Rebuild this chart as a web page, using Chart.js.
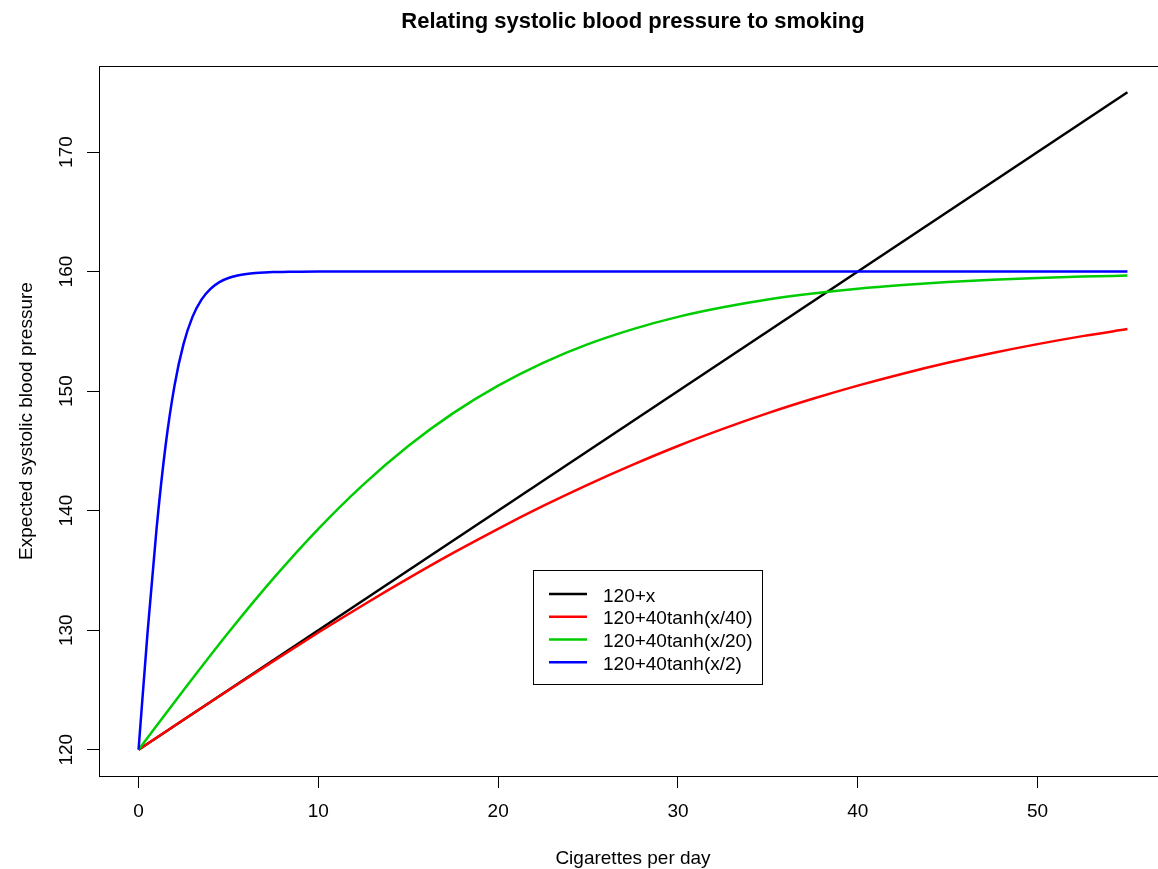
<!DOCTYPE html>
<html>
<head>
<meta charset="utf-8">
<title>Relating systolic blood pressure to smoking</title>
<script src="https://cdn.jsdelivr.net/npm/chart.js@4.4.1/dist/chart.umd.min.js"></script>
<style>
  html, body { margin: 0; padding: 0; background: #fff; overflow: hidden; }
  #wrap { width: 1170px; height: 869px; }
</style>
</head>
<body>
<div id="wrap"><canvas id="chart" width="1170" height="869"></canvas></div>
<script>
const FONT = '"Liberation Sans", Arial, Helvetica, sans-serif';

const titleText = 'Relating systolic blood pressure to smoking';
const xLabel = 'Cigarettes per day';
const yLabel = 'Expected systolic blood pressure';

const xTicks = [0, 10, 20, 30, 40, 50];
const yTicks = [120, 130, 140, 150, 160, 170];

// 120+x
const blackX = [0, 55];
const blackY = [120, 175];

// 120+40tanh(x/40)
const redX = [0, 2.5, 5, 7.5, 10, 12.5, 15, 17.5, 20, 22.5, 25, 27.5, 30, 32.5, 35, 37.5, 40, 42.5, 45, 47.5, 50, 52.5, 55];
const redY = [120, 122.50, 124.97, 127.41, 129.80, 132.11, 134.33, 136.46, 138.48, 140.39, 142.18, 143.85,
  145.41, 146.84, 148.16, 149.36, 150.46, 151.46, 152.37, 153.19, 153.93, 154.60, 155.19];

// 120+40tanh(x/20)
const greenX = [0, 2.5, 5, 7.5, 10, 12.5, 15, 17.5, 20, 22.5, 25, 27.5, 30, 32.5, 35, 37.5, 40, 42.5, 45, 47.5, 50, 52.5, 55];
const greenY = [120, 124.97, 129.80, 134.33, 138.48, 142.18, 145.41, 148.16, 150.46, 152.37, 153.93, 155.19,
  156.21, 157.01, 157.66, 158.16, 158.56, 158.87, 159.12, 159.31, 159.46, 159.58, 159.67];

// 120+40tanh(x/2)
const blueX = [0, 0.5, 1, 1.5, 2, 2.5, 3, 3.5, 4, 4.5, 5, 5.5, 6, 6.5, 7, 7.5, 8, 9, 10, 20, 30, 40, 55];
const blueY = [120, 129.80, 138.48, 145.41, 150.46, 153.93, 156.21, 157.66, 158.56, 159.12, 159.46, 159.67,
  159.80, 159.88, 159.93, 159.96, 159.97, 159.99, 160, 160, 160, 160, 160];

const seriesLabels = ['120+x', '120+40tanh(x/40)', '120+40tanh(x/20)', '120+40tanh(x/2)'];
const seriesColors = ['#000000', '#FF0000', '#00CD00', '#0000FF'];
const seriesX = [blackX, redX, greenX, blueX];
const seriesY = [blackY, redY, greenY, blueY];

const datasets = seriesLabels.map((label, i) => ({
  label,
  data: seriesX[i].map((x, j) => ({ x, y: seriesY[i][j] })),
  borderColor: seriesColors[i],
  backgroundColor: seriesColors[i],
  borderWidth: 2.5,
  pointRadius: 0,
  showLine: true,
  fill: false,
  cubicInterpolationMode: 'monotone',
  order: seriesLabels.length - i
}));

// R style box, title, axis labels, y tick labels and legend
const rDecor = {
  id: 'rDecor',
  afterDraw(chart) {
    const ctx = chart.ctx;
    const a = chart.chartArea;
    const cx = (a.left + a.right) / 2;
    const cy = (a.top + a.bottom) / 2;
    ctx.save();
    ctx.strokeStyle = '#000';
    ctx.lineWidth = 1;
    ctx.strokeRect(Math.round(a.left) + 0.5, Math.round(a.top) + 0.5,
      Math.round(a.right - a.left), Math.round(a.bottom - a.top));

    ctx.fillStyle = '#000';
    ctx.font = 'bold 22px ' + FONT;
    ctx.textAlign = 'center';
    ctx.textBaseline = 'alphabetic';
    ctx.fillText(titleText, cx, 28);

    ctx.font = '19px ' + FONT;
    ctx.fillText(xLabel, cx, 864);

    ctx.save();
    ctx.translate(32, cy);
    ctx.rotate(-Math.PI / 2);
    ctx.fillText(yLabel, 0, 0);
    ctx.restore();

    const ys = chart.scales.y;
    ys.ticks.forEach(t => {
      ctx.save();
      ctx.translate(72, ys.getPixelForValue(t.value));
      ctx.rotate(-Math.PI / 2);
      ctx.fillText(String(t.value), 0, 0);
      ctx.restore();
    });

    // legend
    ctx.strokeRect(533.5, 570.5, 229, 114);
    ctx.textAlign = 'left';
    chart.data.datasets.forEach((ds, i) => {
      const y = 594 + i * 22.75;
      ctx.strokeStyle = ds.borderColor;
      ctx.lineWidth = 2.5;
      ctx.beginPath();
      ctx.moveTo(549, y);
      ctx.lineTo(587, y);
      ctx.stroke();
      ctx.fillStyle = '#000';
      ctx.fillText(ds.label, 603, y + 7.5);
    });
    ctx.restore();
  }
};

const tickGrid = {
  drawOnChartArea: false,
  drawTicks: true,
  tickLength: 12,
  color: '#000',
  lineWidth: 1
};

new Chart(document.getElementById('chart'), {
  type: 'scatter',
  data: { datasets },
  options: {
    responsive: false,
    animation: false,
    devicePixelRatio: 1,
    layout: { padding: { top: 66, right: 3, left: 0, bottom: 0 } },
    plugins: {
      legend: { display: false },
      tooltip: { enabled: false },
      title: { display: false }
    },
    scales: {
      x: {
        type: 'linear',
        min: -2.2,
        max: 57.2,
        afterBuildTicks: s => { s.ticks = xTicks.map(v => ({ value: v })); },
        afterFit: s => { s.height = 93; },
        grid: tickGrid,
        border: { display: false },
        ticks: {
          color: '#000',
          font: { family: FONT, size: 19 },
          padding: 12,
          maxRotation: 0,
          autoSkip: false
        }
      },
      y: {
        type: 'linear',
        min: 117.8,
        max: 177.2,
        afterBuildTicks: s => { s.ticks = yTicks.map(v => ({ value: v })); },
        afterFit: s => { s.width = 99; },
        grid: tickGrid,
        border: { display: false },
        ticks: { display: false }
      }
    }
  },
  plugins: [rDecor]
});
</script>
</body>
</html>
